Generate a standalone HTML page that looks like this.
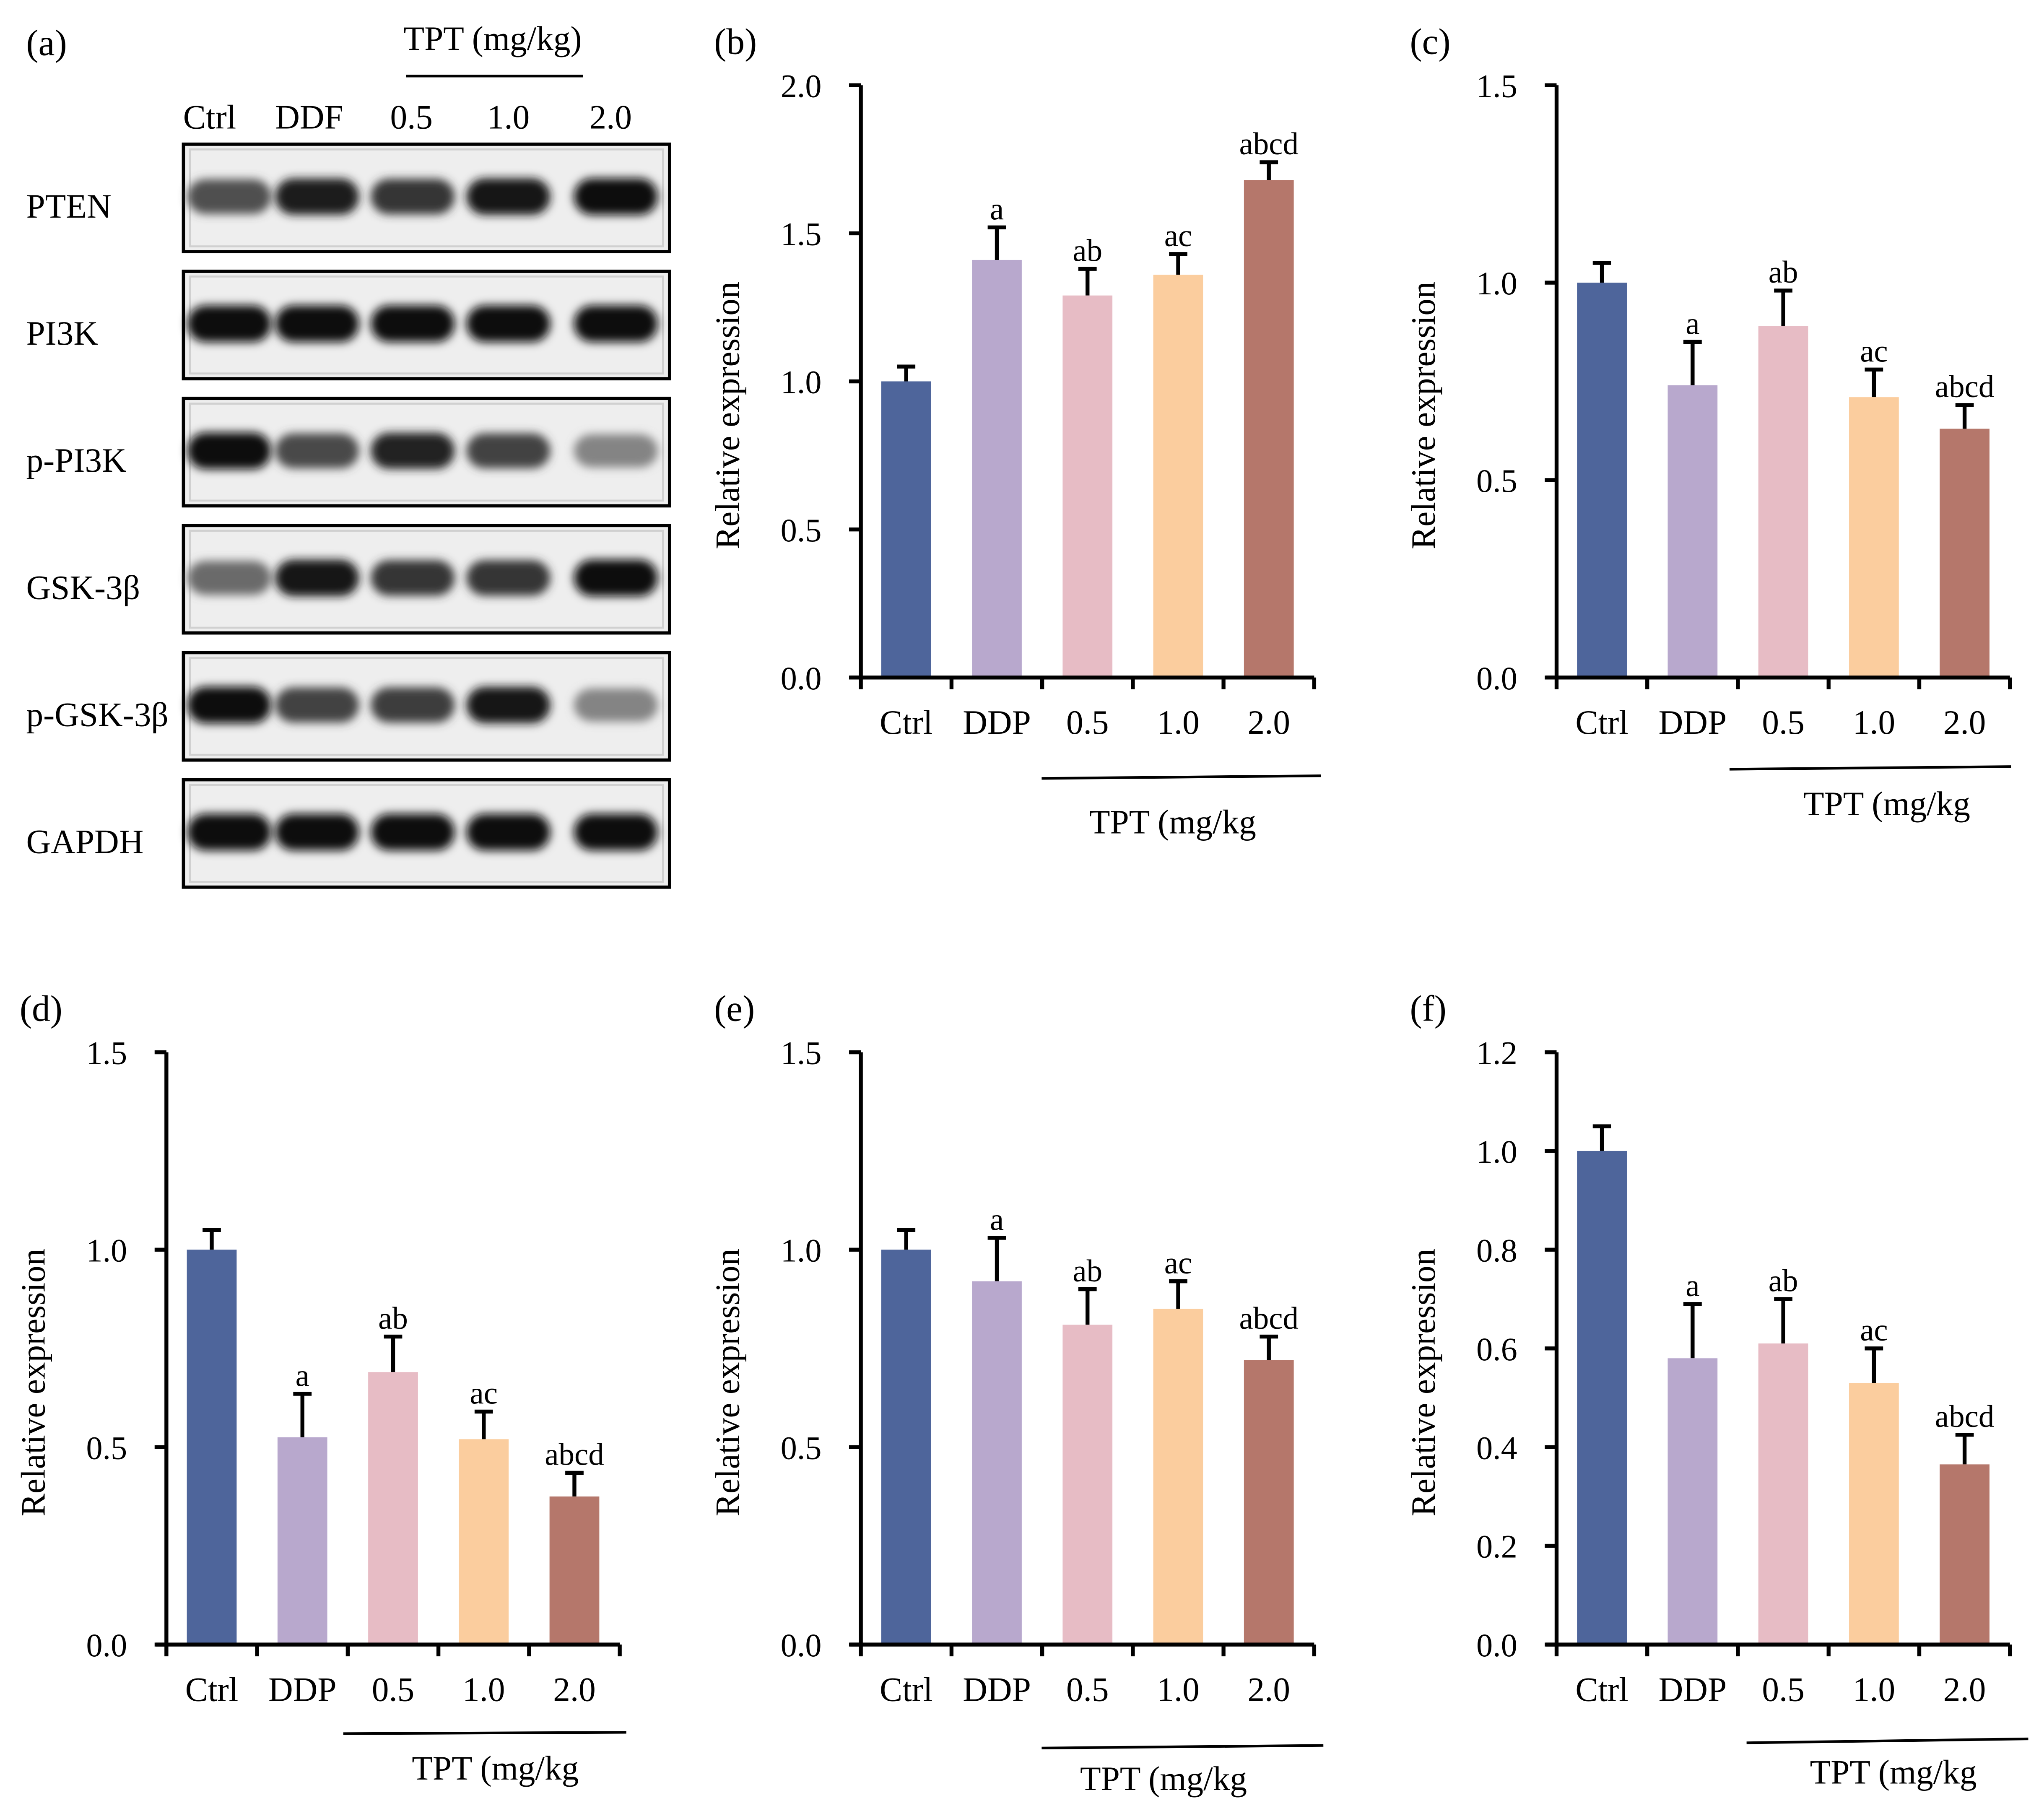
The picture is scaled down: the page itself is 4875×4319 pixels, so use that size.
<!DOCTYPE html>
<html><head><meta charset="utf-8"><style>
html,body{margin:0;padding:0;background:#fff}
svg{display:block}
text{font-family:"Liberation Serif",serif;fill:#000}
</style></head><body>
<svg id="fig" width="4875" height="4319" viewBox="0 0 1560 1382" xmlns="http://www.w3.org/2000/svg">
<defs><filter id="blur" x="-30%" y="-100%" width="160%" height="300%"><feGaussianBlur stdDeviation="3.5"/></filter></defs>
<g id="blot">
<text x="20" y="42" font-size="28">(a)</text>
<text x="376" y="38" font-size="26" text-anchor="middle">TPT (mg/kg)</text>
<line x1="310" y1="58" x2="445" y2="58" stroke="#000" stroke-width="2"/>
</g>
</svg>
<script>
const categories = ["Ctrl","DDP","0.5","1.0","2.0"];
const letters = ["","a","ab","ac","abcd"];
const bValues = [1.0,1.41,1.29,1.36,1.68];
const bErrors = [0.05,0.11,0.09,0.07,0.06];
const cValues = [1.0,0.74,0.89,0.71,0.63];
const cErrors = [0.05,0.11,0.09,0.07,0.06];
const dValues = [1.0,0.525,0.69,0.52,0.375];
const dErrors = [0.05,0.11,0.09,0.07,0.06];
const eValues = [1.0,0.92,0.81,0.85,0.72];
const eErrors = [0.05,0.11,0.09,0.07,0.06];
const fValues = [1.0,0.58,0.61,0.53,0.365];
const fErrors = [0.05,0.11,0.09,0.07,0.06];
const ticks15 = ["0.0","0.5","1.0","1.5"];
const ticks20 = ["0.0","0.5","1.0","1.5","2.0"];
const ticks12 = ["0.0","0.2","0.4","0.6","0.8","1.0","1.2"];
const proteins = ["PTEN","PI3K","p-PI3K","GSK-3β","p-GSK-3β","GAPDH"];
const bandIntensity = [
 [0.75,0.95,0.85,0.97,1.0],
 [1.0,1.0,1.0,1.0,1.0],
 [1.0,0.78,0.92,0.8,0.55],
 [0.65,0.97,0.85,0.85,1.0],
 [1.0,0.8,0.82,0.97,0.55],
 [1.0,1.0,1.0,1.0,1.0]];
const colors = ["#4e659b","#b8a8cd","#e7bcc5","#fbcd9e","#b5776b"];
const NS="http://www.w3.org/2000/svg";
const svg=document.getElementById('fig');
function mk(tag,attrs,parent,txt){const e=document.createElementNS(NS,tag);for(const k in attrs)e.setAttribute(k,attrs[k]);if(txt!==undefined)e.textContent=txt;(parent||svg).appendChild(e);return e;}

const blot=document.getElementById('blot');
const laneX=[175,242,315,388,470];
const laneLbl=["Ctrl","DDF","0.5","1.0","2.0"];
laneLbl.forEach((l,i)=>{const t=mk('text',{x:[160,236,314,388,466][i],y:98,'font-size':26,'text-anchor':'middle'},blot,l);

});
proteins.forEach((p,r)=>{
 const y0=110+r*97;
 const g=mk('g',{},blot);
 
 
 const box=mk('rect',{x:140,y:y0,width:371,height:82,fill:'#eeeeee',stroke:'#000','stroke-width':2.5},g);
 
 
 mk('rect',{x:145,y:y0+4,width:361,height:74,fill:'none',stroke:'#d0d0d0','stroke-width':1.5},g);
 const lb=mk('text',{x:20,y:y0+56,'font-size':26},g,p);
 
 
 bandIntensity[r].forEach((v,i)=>{
  const c=Math.round(15+(1-v)*260);
  const el=mk('rect',{x:laneX[i]-32,y:y0+40-(11+v*3),width:64,height:2*(11+v*3),rx:14,fill:`rgb(${c},${c},${c})`,filter:'url(#blur)'},g);
  
  
 });
});

function chart(o){
 const g=mk('g',{});
 
 
 const ax=o.ax, yTop=o.yTop, y0=yTop+452, xEnd=ax+346;
 const y=v=>y0-(v/o.max)*(y0-yTop);
 const step=(xEnd-ax)/5;
 const pl=mk('text',{x:ax-112,y:yTop-24,'font-size':28},g,'('+o.id+')');
 
 
 o.values.forEach((v,i)=>{
  const cx=ax+step*(i+0.5);
  const top=y(v), etop=y(v+o.errors[i]);
  const er=mk('line',{x1:cx,y1:top,x2:cx,y2:etop,stroke:'#000','stroke-width':3},g);
  
  
  mk('line',{x1:cx-7,y1:etop,x2:cx+7,y2:etop,stroke:'#000','stroke-width':3},g);
  const b=mk('rect',{x:cx-19,y:top,width:38,height:y0-top,fill:colors[i]},g);
  
  
  if(letters[i]){const t=mk('text',{x:cx,y:etop-6,'font-size':24,'text-anchor':'middle'},g,letters[i]);
   
   }
  const cl=mk('text',{x:cx,y:y0+43,'font-size':26,'text-anchor':'middle'},g,categories[i]);
  
  
 });
 const ya=mk('line',{x1:ax,y1:yTop,x2:ax,y2:y0+1.5,stroke:'#000','stroke-width':3},g);
 
 
 const xa=mk('line',{x1:ax-8,y1:y0,x2:xEnd,y2:y0,stroke:'#000','stroke-width':3},g);
 
 
 for(let i=0;i<=5;i++) mk('line',{x1:ax+step*i,y1:y0,x2:ax+step*i,y2:y0+9,stroke:'#000','stroke-width':3},g);
 o.ticks.forEach((t,i)=>{
  const v=o.max*i/(o.ticks.length-1);
  mk('line',{x1:ax-9,y1:y(v),x2:ax,y2:y(v),stroke:'#000','stroke-width':3},g);
  const tl=mk('text',{x:ax-30,y:y(v)+9,'font-size':25,'text-anchor':'end'},g,t);
  
  
 });
 const yl=mk('text',{x:0,y:0,'font-size':26,'text-anchor':'middle',transform:`translate(${ax-93},${yTop+252}) rotate(-90)`},g,'Relative expression');
 
 
 const br=mk('line',{x1:o.lx1,y1:o.ly1,x2:o.lx2,y2:o.ly2,stroke:'#000','stroke-width':2},g);
 
 
 const tt=mk('text',{x:o.tx,y:o.ty,'font-size':26,'text-anchor':'middle'},g,'TPT (mg/kg');
 
 
}
chart({id:'b',ax:657,yTop:65,max:2.0,ticks:ticks20,values:bValues,errors:bErrors,lx1:795,ly1:594,lx2:1008,ly2:592,tx:895,ty:636});
chart({id:'c',ax:1188,yTop:65,max:1.5,ticks:ticks15,values:cValues,errors:cErrors,lx1:1320,ly1:587,lx2:1535,ly2:585,tx:1440,ty:622});
chart({id:'d',ax:127,yTop:803,max:1.5,ticks:ticks15,values:dValues,errors:dErrors,lx1:262,ly1:1323,lx2:478,ly2:1322,tx:378,ty:1358});
chart({id:'e',ax:657,yTop:803,max:1.5,ticks:ticks15,values:eValues,errors:eErrors,lx1:795,ly1:1334,lx2:1010,ly2:1332,tx:888,ty:1366});
chart({id:'f',ax:1188,yTop:803,max:1.2,ticks:ticks12,values:fValues,errors:fErrors,lx1:1333,ly1:1330,lx2:1548,ly2:1327,tx:1445,ty:1361});
</script>
</body></html>
